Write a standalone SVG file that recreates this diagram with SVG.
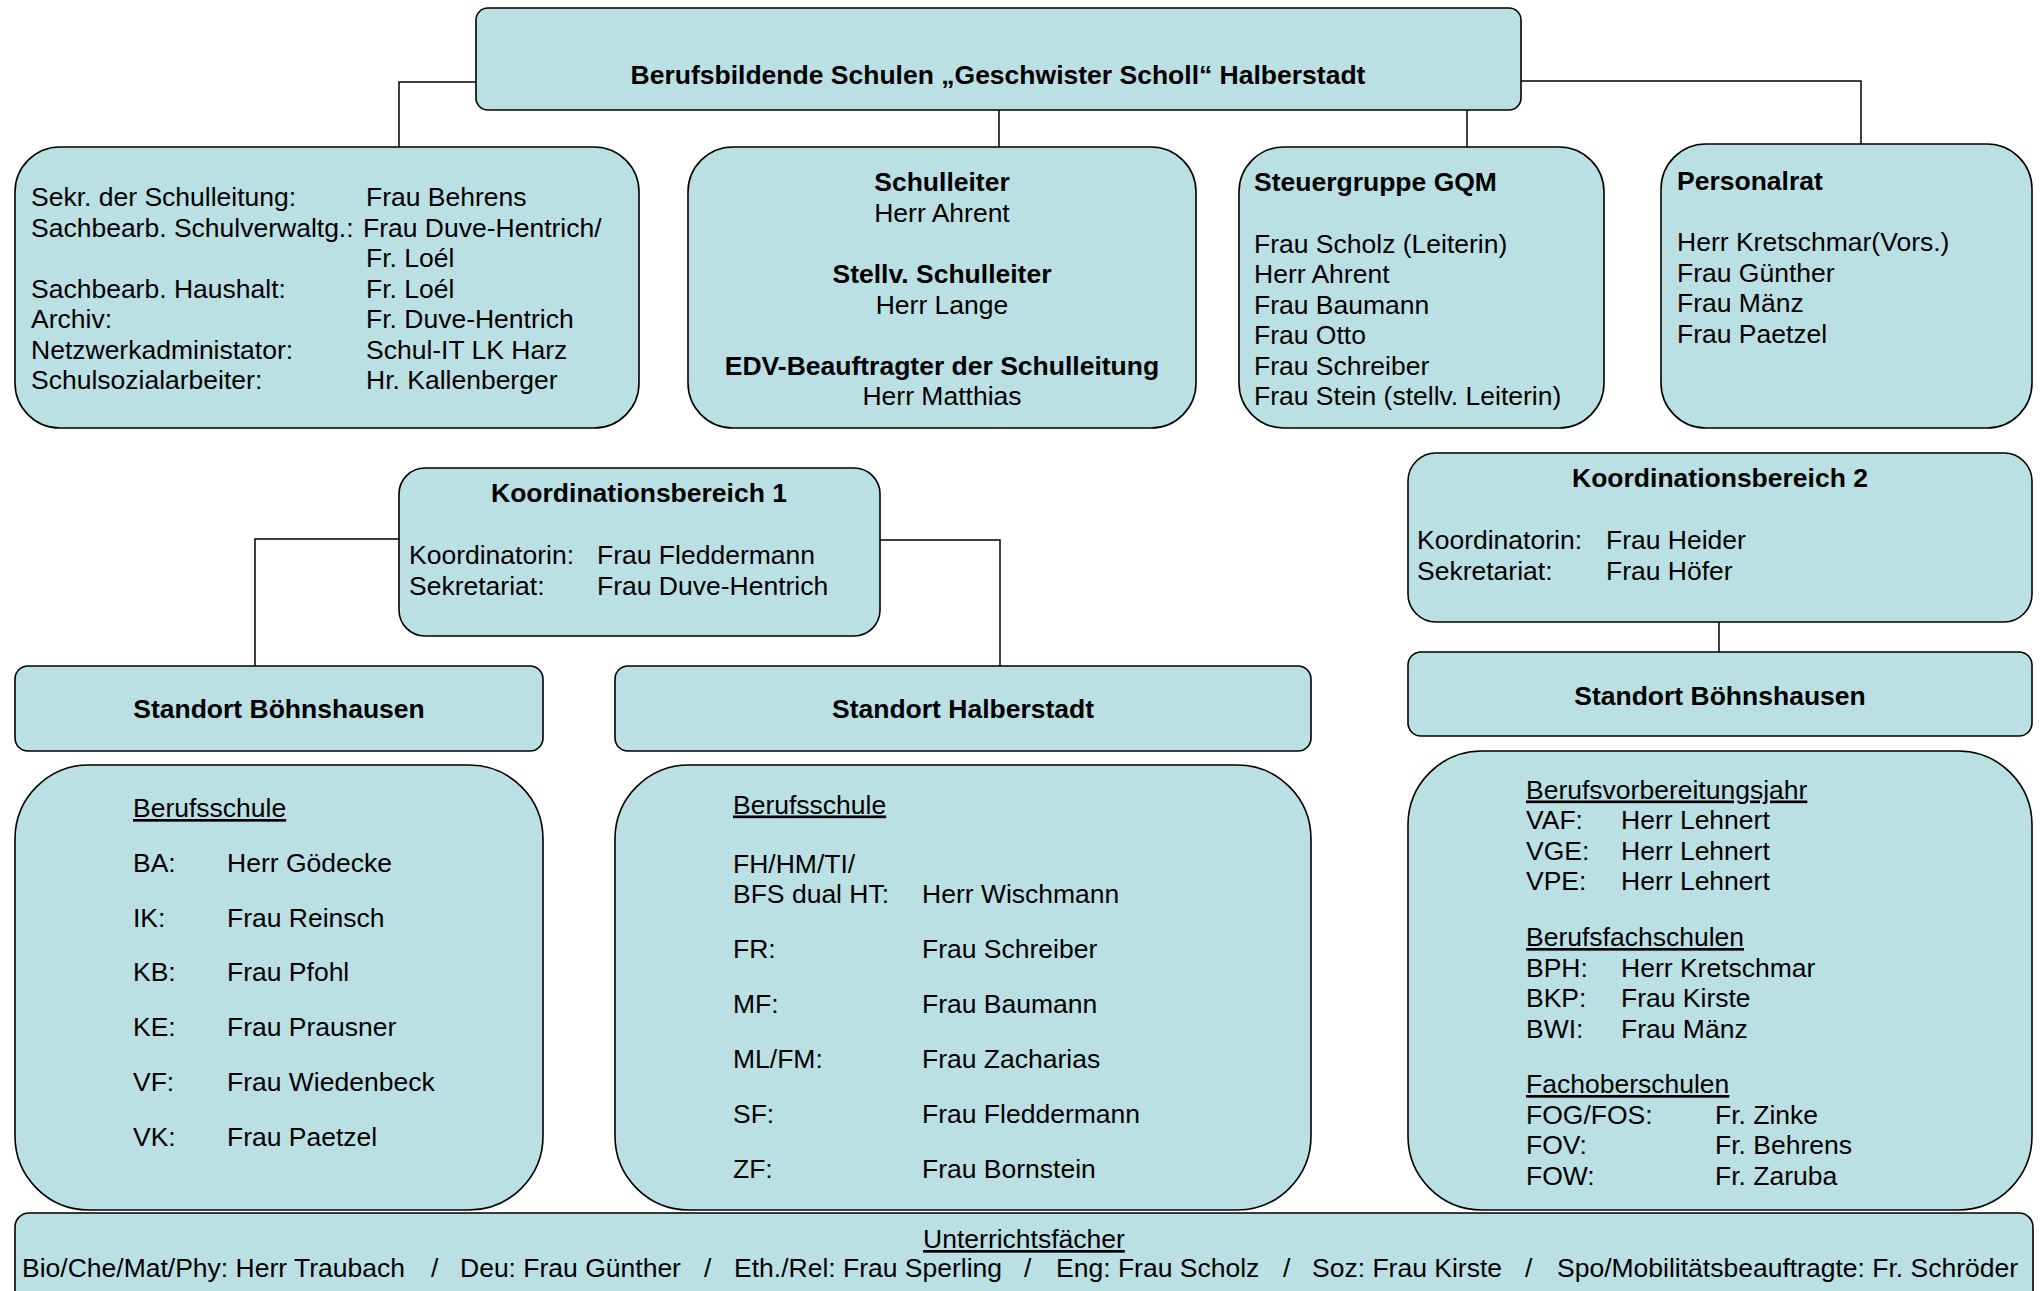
<svg xmlns="http://www.w3.org/2000/svg" width="2040" height="1291" viewBox="0 0 2040 1291">
<style>
.box{fill:#BAE0E3;stroke:#000;stroke-width:1.6}
.t{font-family:"Liberation Sans",Arial,sans-serif;font-size:26.5px;fill:#000}
.b{font-weight:bold}
.m{text-anchor:middle}
.u{text-decoration:underline}
.con{fill:none;stroke:#000;stroke-width:1.5}
</style>
<rect width="2040" height="1291" fill="#fff"/>
<g id="connectors">
<path class="con" d="M476,82 H399 V147"/>
<path class="con" d="M999,110 V147"/>
<path class="con" d="M1467,110 V147"/>
<path class="con" d="M1521,81 H1861 V144"/>
<path class="con" d="M399,539 H255 V666"/>
<path class="con" d="M880,540 H1000 V666"/>
<path class="con" d="M1719,622 V652"/>
</g>
<g id="school">
<rect class="box" x="476" y="8" width="1045" height="102" rx="12"/>
<text class="t b m" x="998" y="84">Berufsbildende Schulen „Geschwister Scholl“ Halberstadt</text>
</g>
<g id="verwaltung">
<rect class="box" x="15" y="147" width="624" height="281" rx="45"/>
<text class="t" x="31" y="206">Sekr. der Schulleitung:</text><text class="t" x="366" y="206">Frau Behrens</text>
<text class="t" x="31" y="236.5">Sachbearb. Schulverwaltg.:</text><text class="t" x="363" y="236.5">Frau Duve-Hentrich/</text>
<text class="t" x="366" y="267">Fr. Loél</text>
<text class="t" x="31" y="297.5">Sachbearb. Haushalt:</text><text class="t" x="366" y="297.5">Fr. Loél</text>
<text class="t" x="31" y="328">Archiv:</text><text class="t" x="366" y="328">Fr. Duve-Hentrich</text>
<text class="t" x="31" y="358.5">Netzwerkadministator:</text><text class="t" x="366" y="358.5">Schul-IT LK Harz</text>
<text class="t" x="31" y="389">Schulsozialarbeiter:</text><text class="t" x="366" y="389">Hr. Kallenberger</text>
</g>
<g id="schulleitung">
<rect class="box" x="688" y="147" width="508" height="281" rx="45"/>
<text class="t b m" x="942" y="191">Schulleiter</text>
<text class="t m" x="942" y="222">Herr Ahrent</text>
<text class="t b m" x="942" y="283">Stellv. Schulleiter</text>
<text class="t m" x="942" y="314">Herr Lange</text>
<text class="t b m" x="942" y="375">EDV-Beauftragter der Schulleitung</text>
<text class="t m" x="942" y="405">Herr Matthias</text>
</g>
<g id="steuergruppe">
<rect class="box" x="1239" y="147" width="365" height="281" rx="45"/>
<text class="t b" x="1254" y="191">Steuergruppe GQM</text>
<text class="t" x="1254" y="252.5">Frau Scholz (Leiterin)</text>
<text class="t" x="1254" y="283">Herr Ahrent</text>
<text class="t" x="1254" y="313.5">Frau Baumann</text>
<text class="t" x="1254" y="344">Frau Otto</text>
<text class="t" x="1254" y="374.5">Frau Schreiber</text>
<text class="t" x="1254" y="405">Frau Stein (stellv. Leiterin)</text>
</g>
<g id="personalrat">
<rect class="box" x="1661" y="144" width="371" height="284" rx="45"/>
<text class="t b" x="1677" y="189.5">Personalrat</text>
<text class="t" x="1677" y="251">Herr Kretschmar(Vors.)</text>
<text class="t" x="1677" y="281.5">Frau Günther</text>
<text class="t" x="1677" y="312">Frau Mänz</text>
<text class="t" x="1677" y="342.5">Frau Paetzel</text>
</g>
<g id="kb1">
<rect class="box" x="399" y="468" width="481" height="168" rx="26"/>
<text class="t b m" x="639" y="502">Koordinationsbereich 1</text>
<text class="t" x="409" y="564">Koordinatorin:</text><text class="t" x="597" y="564">Frau Fleddermann</text>
<text class="t" x="409" y="595">Sekretariat:</text><text class="t" x="597" y="595">Frau Duve-Hentrich</text>
</g>
<g id="kb2">
<rect class="box" x="1408" y="453" width="624" height="169" rx="28"/>
<text class="t b m" x="1720" y="487">Koordinationsbereich 2</text>
<text class="t" x="1417" y="549">Koordinatorin:</text><text class="t" x="1606" y="549">Frau Heider</text>
<text class="t" x="1417" y="579.5">Sekretariat:</text><text class="t" x="1606" y="579.5">Frau Höfer</text>
</g>
<g id="standort-boehnshausen-1">
<rect class="box" x="15" y="666" width="528" height="85" rx="13"/>
<text class="t b m" x="279" y="718">Standort Böhnshausen</text>
</g>
<g id="standort-halberstadt">
<rect class="box" x="615" y="666" width="696" height="85" rx="13"/>
<text class="t b m" x="963" y="718">Standort Halberstadt</text>
</g>
<g id="standort-boehnshausen-2">
<rect class="box" x="1408" y="652" width="624" height="84" rx="13"/>
<text class="t b m" x="1720" y="705">Standort Böhnshausen</text>
</g>
<g id="berufsschule-boehnshausen">
<rect class="box" x="15" y="765" width="528" height="445" rx="74"/>
<text class="t u" x="133" y="817">Berufsschule</text>
<text class="t" x="133" y="872">BA:</text><text class="t" x="227" y="872">Herr Gödecke</text>
<text class="t" x="133" y="926.7">IK:</text><text class="t" x="227" y="926.7">Frau Reinsch</text>
<text class="t" x="133" y="981.4">KB:</text><text class="t" x="227" y="981.4">Frau Pfohl</text>
<text class="t" x="133" y="1036">KE:</text><text class="t" x="227" y="1036">Frau Prausner</text>
<text class="t" x="133" y="1090.8">VF:</text><text class="t" x="227" y="1090.8">Frau Wiedenbeck</text>
<text class="t" x="133" y="1145.5">VK:</text><text class="t" x="227" y="1145.5">Frau Paetzel</text>
</g>
<g id="berufsschule-halberstadt">
<rect class="box" x="615" y="765" width="696" height="445" rx="74"/>
<text class="t u" x="733" y="813.5">Berufsschule</text>
<text class="t" x="733" y="872.5">FH/HM/TI/</text>
<text class="t" x="733" y="903">BFS dual HT:</text><text class="t" x="922" y="903">Herr Wischmann</text>
<text class="t" x="733" y="958">FR:</text><text class="t" x="922" y="958">Frau Schreiber</text>
<text class="t" x="733" y="1013">MF:</text><text class="t" x="922" y="1013">Frau Baumann</text>
<text class="t" x="733" y="1068">ML/FM:</text><text class="t" x="922" y="1068">Frau Zacharias</text>
<text class="t" x="733" y="1123">SF:</text><text class="t" x="922" y="1123">Frau Fleddermann</text>
<text class="t" x="733" y="1178">ZF:</text><text class="t" x="922" y="1178">Frau Bornstein</text>
</g>
<g id="schulformen-boehnshausen">
<rect class="box" x="1408" y="751" width="624" height="459" rx="74"/>
<text class="t u" x="1526" y="798.5">Berufsvorbereitungsjahr</text>
<text class="t" x="1526" y="829">VAF:</text><text class="t" x="1621" y="829">Herr Lehnert</text>
<text class="t" x="1526" y="859.5">VGE:</text><text class="t" x="1621" y="859.5">Herr Lehnert</text>
<text class="t" x="1526" y="890">VPE:</text><text class="t" x="1621" y="890">Herr Lehnert</text>
<text class="t u" x="1526" y="946">Berufsfachschulen</text>
<text class="t" x="1526" y="976.5">BPH:</text><text class="t" x="1621" y="976.5">Herr Kretschmar</text>
<text class="t" x="1526" y="1007">BKP:</text><text class="t" x="1621" y="1007">Frau Kirste</text>
<text class="t" x="1526" y="1037.5">BWI:</text><text class="t" x="1621" y="1037.5">Frau Mänz</text>
<text class="t u" x="1526" y="1093">Fachoberschulen</text>
<text class="t" x="1526" y="1123.5">FOG/FOS:</text><text class="t" x="1715" y="1123.5">Fr. Zinke</text>
<text class="t" x="1526" y="1154">FOV:</text><text class="t" x="1715" y="1154">Fr. Behrens</text>
<text class="t" x="1526" y="1184.5">FOW:</text><text class="t" x="1715" y="1184.5">Fr. Zaruba</text>
</g>
<g id="unterrichtsfaecher">
<rect class="box" x="15" y="1213" width="2018" height="100" rx="14"/>
<text class="t u m" x="1024" y="1248">Unterrichtsfächer</text>
<text class="t" y="1277"><tspan x="22">Bio/Che/Mat/Phy: Herr Traubach</tspan><tspan x="431">/</tspan><tspan x="460">Deu: Frau Günther</tspan><tspan x="704">/</tspan><tspan x="734">Eth./Rel: Frau Sperling</tspan><tspan x="1024">/</tspan><tspan x="1056">Eng: Frau Scholz</tspan><tspan x="1283">/</tspan><tspan x="1312">Soz: Frau Kirste</tspan><tspan x="1525">/</tspan><tspan x="1557">Spo/Mobilitätsbeauftragte: Fr. Schröder</tspan></text>
</g>
</svg>
